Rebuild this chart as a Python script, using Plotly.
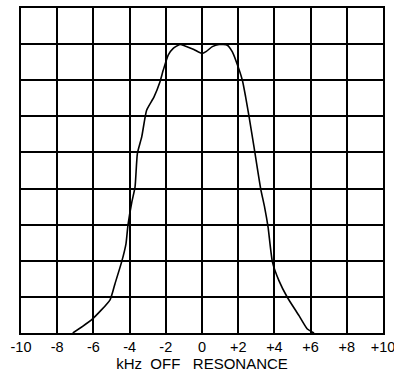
import plotly.graph_objects as go

# kHz off resonance
freq = [-7.14, -6.09, -5.08, -4.81, -4.44, -4.20, -4.09, -3.88, -3.70, -3.57, -3.33,
        -3.06, -2.65, -2.32, -2.14, -1.86, -1.59, -1.22, -0.94, -0.45, 0.0, 0.22,
        0.57, 0.94, 1.40, 1.67, 1.86, 2.23, 2.41, 2.60, 2.87, 3.24, 3.46, 3.65,
        3.89, 4.25, 4.71, 5.36, 5.82, 6.19]
# response, in grid divisions above the baseline
resp = [0.0, 0.37, 0.92, 1.36, 1.97, 2.47, 2.99, 3.62, 4.04, 4.97, 5.43,
        6.17, 6.54, 6.96, 7.28, 7.70, 7.88, 7.99, 7.95, 7.85, 7.74, 7.79,
        7.93, 7.99, 7.97, 7.79, 7.56, 7.00, 6.54, 5.99, 5.16, 4.00, 3.48, 2.93,
        1.97, 1.45, 0.99, 0.48, 0.11, 0.0]

tick_vals = [-10, -8, -6, -4, -2, 0, 2, 4, 6, 8, 10]
tick_text = ["-10", "-8", "-6", "-4", "-2", "0", "+2", "+4", "+6", "+8", "+10"]
x_title = "kHz  OFF   RESONANCE"

FONT = "Liberation Sans"

fig = go.Figure()
fig.add_trace(go.Scatter(x=freq, y=resp, mode="lines",
                         line=dict(color="black", width=1.6, shape="spline", smoothing=0.5),
                         hoverinfo="skip"))

fig.update_layout(
    width=394, height=377,
    margin=dict(l=21, r=11, t=8, b=44, autoexpand=False),
    paper_bgcolor="white", plot_bgcolor="white",
    showlegend=False,
    font=dict(family=FONT, color="black"),
    xaxis=dict(range=[-10, 10], tickvals=tick_vals, ticktext=tick_text,
               showgrid=True, gridcolor="black", gridwidth=1.6,
               showline=True, linecolor="black", linewidth=2, mirror=True,
               zeroline=False, ticks="", ticklen=0, automargin=False,
               ticklabeloverflow="allow",
               tickfont=dict(family=FONT, size=14.5, color="black"),
               title=dict(text=x_title, font=dict(family=FONT, size=15, color="black"),
                          standoff=2)),
    yaxis=dict(range=[0, 9], dtick=1, showticklabels=False, automargin=False,
               showgrid=True, gridcolor="black", gridwidth=1.6,
               showline=True, linecolor="black", linewidth=2, mirror=True,
               zeroline=False, ticks=""),
)
fig.write_html("out.html", config={"displayModeBar": False},
               post_script="document.body.style.margin='0';document.body.style.padding='0';")
